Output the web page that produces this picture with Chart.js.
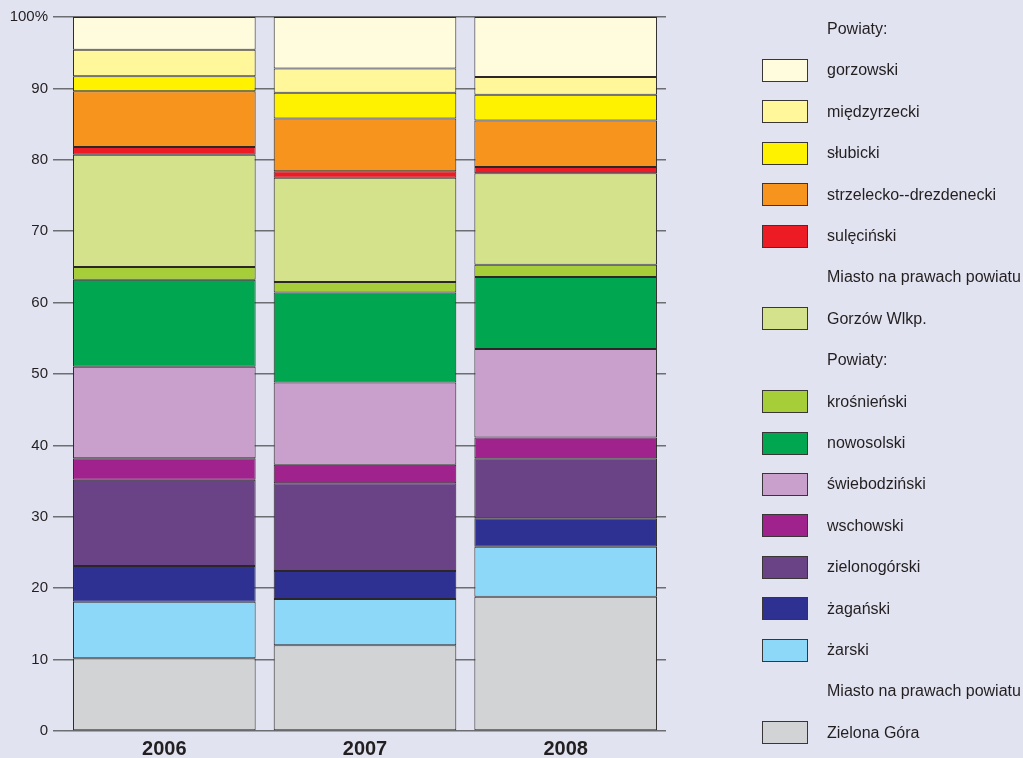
<!DOCTYPE html>
<html>
<head>
<meta charset="utf-8">
<script src="https://cdn.jsdelivr.net/npm/chart.js@4"></script>
<style>
  body { margin: 0; background: #e1e3f0; }
  #wrap { position: relative; width: 1023px; height: 758px; }
  #legend { position: absolute; left: 0; top: 0; width: 1023px; height: 758px; pointer-events: none;
            font-family: "Liberation Sans", Arial, sans-serif; font-size: 16px; color: #231f20; }
  .row { position: absolute; left: 762px; height: 24px; display: flex; align-items: center; white-space: nowrap; }
  .box { width: 44px; height: 21px; border: 1px solid #3a3536; margin-right: 19px; }
  .nobox { width: 46px; margin-right: 19px; }
</style>
</head>
<body>
<div id="wrap">
  <canvas id="myChart" width="1023" height="758"></canvas>
  <div id="legend"></div>
</div>
<script>
// Years
const years = ['2006', '2007', '2008'];

// Shares (%) per unit, bottom of stack first
const zielonaGora    = [10.2, 12.0, 18.8];
const zarski         = [7.9, 6.5, 7.0];
const zaganski       = [5.0, 3.9, 4.0];
const zielonogorski  = [12.1, 12.3, 8.4];
const wschowski      = [3.0, 2.6, 2.9];
const swiebodzinski  = [12.8, 11.5, 12.4];
const nowosolski     = [12.2, 12.6, 10.1];
const krosnienski    = [1.8, 1.5, 1.7];
const gorzowWlkp     = [15.7, 14.6, 12.8];
const sulecinski     = [1.1, 0.9, 0.9];
const strzelecko     = [7.8, 7.4, 6.5];
const slubicki       = [2.1, 3.6, 3.6];
const miedzyrzecki   = [3.7, 3.4, 2.5];
const gorzowski      = [4.6, 7.2, 8.4];

const yTicks = ['0', '10', '20', '30', '40', '50', '60', '70', '80', '90', '100%'];

const series = [
    { label: 'Zielona Góra', data: zielonaGora, color: '#d1d3d4' },
    { label: 'żarski', data: zarski, color: '#8dd8f8' },
    { label: 'żagański', data: zaganski, color: '#2e3192' },
    { label: 'zielonogórski', data: zielonogorski, color: '#694386' },
    { label: 'wschowski', data: wschowski, color: '#a0228c' },
    { label: 'świebodziński', data: swiebodzinski, color: '#c8a0cb' },
    { label: 'nowosolski', data: nowosolski, color: '#00a650' },
    { label: 'krośnieński', data: krosnienski, color: '#a6ce39' },
    { label: 'Gorzów Wlkp.', data: gorzowWlkp, color: '#d3e28b' },
    { label: 'sulęciński', data: sulecinski, color: '#ed1c24' },
    { label: 'strzelecko--drezdenecki', data: strzelecko, color: '#f7941d' },
    { label: 'słubicki', data: slubicki, color: '#fff200' },
    { label: 'międzyrzecki', data: miedzyrzecki, color: '#fff799' },
    { label: 'gorzowski', data: gorzowski, color: '#fffcde' }
];

// legend rows, top to bottom (null color = heading)
const legendRows = [
    ['Powiaty:', null],
    ['gorzowski'], ['międzyrzecki'], ['słubicki'], ['strzelecko--drezdenecki'], ['sulęciński'],
    ['Miasto na prawach powiatu', null],
    ['Gorzów Wlkp.'],
    ['Powiaty:', null],
    ['krośnieński'], ['nowosolski'], ['świebodziński'], ['wschowski'], ['zielonogórski'], ['żagański'], ['żarski'],
    ['Miasto na prawach powiatu', null],
    ['Zielona Góra']
];

const chartData = {
    labels: years,
    datasets: series.map(s => ({
        label: s.label,
        data: s.data,
        backgroundColor: s.color,
        borderColor: '#2b2728',
        borderWidth: 1,
        borderSkipped: false,
        barPercentage: 0.91,
        categoryPercentage: 1.0
    }))
};

const config = {
    type: 'bar',
    data: chartData,
    options: {
        responsive: false,
        animation: false,
        layout: { padding: { left: 0, right: 357, top: 17, bottom: 0 } },
        plugins: {
            legend: { display: false },
            tooltip: { enabled: false }
        },
        scales: {
            x: {
                stacked: true,
                grid: { display: false, drawTicks: false },
                border: { display: false },
                ticks: {
                    color: '#231f20',
                    padding: 6,
                    font: { family: '"Liberation Sans", Arial, sans-serif', size: 20, weight: 'bold' }
                },
                afterFit: function (scale) { scale.height = 27; }
            },
            y: {
                stacked: true,
                min: 0,
                max: 100,
                grid: { color: '#6d6e71', lineWidth: 1.5, tickLength: 11 },
                border: { display: false },
                ticks: {
                    stepSize: 10,
                    color: '#231f20',
                    padding: 5,
                    font: { family: '"Liberation Sans", Arial, sans-serif', size: 15 },
                    callback: function (value) { return yTicks[value / 10]; }
                },
                afterFit: function (scale) { scale.width = 64; }
            }
        }
    }
};

const myChart = new Chart(document.getElementById('myChart'), config);

// HTML legend
const legendEl = document.getElementById('legend');
legendRows.forEach(function (r, i) {
    const row = document.createElement('div');
    row.className = 'row';
    row.style.top = (29 + i * 41.4 - 12) + 'px';
    const box = document.createElement('div');
    if (r.length > 1 && r[1] === null) {
        box.className = 'nobox';
    } else {
        box.className = 'box';
        box.style.background = series.find(s => s.label === r[0]).color;
    }
    row.appendChild(box);
    const txt = document.createElement('span');
    txt.textContent = r[0];
    row.appendChild(txt);
    legendEl.appendChild(row);
});
</script>
</body>
</html>
